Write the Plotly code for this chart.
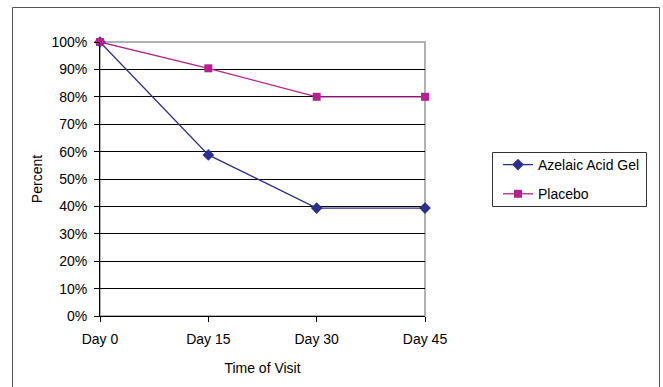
import plotly.graph_objects as go

days = ["Day 0", "Day 15", "Day 30", "Day 45"]
azelaic = [100, 58.8, 39.4, 39.4]
placebo = [100, 90.4, 80, 80]
y_ticks = [0, 10, 20, 30, 40, 50, 60, 70, 80, 90, 100]
y_labels = [f"{v}%" for v in y_ticks]

xpos = list(range(len(days)))
navy = "#2b2f8e"
magenta = "#b5218f"

fig = go.Figure()
fig.add_trace(go.Scatter(x=xpos, y=azelaic, name="Azelaic Acid Gel", mode="lines+markers",
                         legendgroup="a",
                         line=dict(color=navy, width=1.3),
                         marker=dict(symbol="diamond", size=9, color=navy),
                         cliponaxis=False))
fig.add_trace(go.Scatter(x=xpos, y=placebo, name="Placebo", mode="lines+markers",
                         legendgroup="b",
                         line=dict(color=magenta, width=1.3),
                         marker=dict(symbol="square", size=8, color=magenta),
                         cliponaxis=False))

W, H = 663, 387
L, R, T, B = 100, 425, 42, 316
pw, ph = R - L, B - T

def px(x):
    return (x - L) / pw

def py(y):
    return (B - y) / ph

fig.update_layout(
    width=W, height=H,
    margin=dict(l=L, r=W - R, t=T, b=H - B, pad=0),
    paper_bgcolor="white", plot_bgcolor="white",
    font=dict(family="Liberation Sans, Arial, sans-serif", size=14, color="black"),
    showlegend=True,
    legend=dict(x=px(498), y=py(149), xanchor="left", yanchor="top",
                borderwidth=0, bgcolor="rgba(0,0,0,0)",
                font=dict(size=14), tracegroupgap=8, itemwidth=30),
    xaxis=dict(range=[0, 3], tickvals=xpos, ticktext=days, showgrid=False,
               showline=True, linecolor="black", linewidth=1, automargin=False,
               ticks="outside", ticklen=5, tickcolor="black", zeroline=False,
               ticklabelstandoff=5,
               title=dict(text="Time of Visit", font=dict(size=14), standoff=17)),
    yaxis=dict(range=[0, 100], tickvals=y_ticks, ticktext=y_labels,
               showgrid=True, gridcolor="black", gridwidth=1,
               showline=True, linecolor="black", linewidth=1, automargin=False,
               ticks="outside", ticklen=5, tickcolor="black", zeroline=False,
               ticklabelstandoff=4,
               title=dict(text="Percent", font=dict(size=14), standoff=5)),
    shapes=[
        dict(type="rect", xref="paper", yref="paper", x0=0, x1=1, y0=0, y1=1,
             line=dict(color="#999999", width=1.5), layer="below"),
        dict(type="rect", xref="paper", yref="paper",
             x0=px(12.5), x1=px(659.5), y0=py(395), y1=py(7.5),
             line=dict(color="#555555", width=1), layer="below"),
        dict(type="rect", xref="paper", yref="paper",
             x0=px(492.5), x1=px(646.5), y0=py(206.5), y1=py(152.5),
             line=dict(color="#333333", width=1), layer="below"),
    ],
)

fig.write_html(
    "out.html",
    config={"displayModeBar": False},
    post_script="document.body.style.margin='0';document.body.style.overflow='hidden';",
)
